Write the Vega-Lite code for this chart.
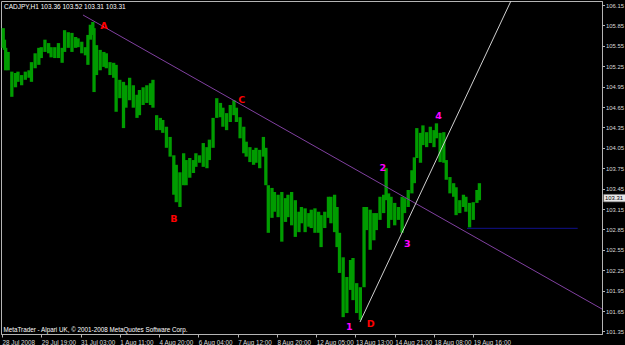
{
  "$schema": "https://vega.github.io/schema/vega-lite/v6.json",
  "width": 601,
  "height": 333,
  "autosize": {"type": "none"},
  "padding": {"left": 1, "top": 1, "right": 23, "bottom": 11},
  "background": "#000000",
  "config": {
    "view": {"stroke": "#b4b4b4", "strokeWidth": 1},
    "font": "Liberation Sans"
  },
  "title": {
    "text": "CADJPY,H1  103.36 103.52 103.31 103.31",
    "anchor": "start",
    "frame": "group",
    "offset": -14,
    "dx": 3,
    "baseline": "alphabetic",
    "color": "#ffffff",
    "fontSize": 6.5,
    "fontWeight": "normal",
    "font": "Liberation Sans"
  },
  "resolve": {"scale": {"color": "independent", "strokeWidth": "independent"}},
  "encoding": {
    "x": {
      "field": "b",
      "type": "quantitative",
      "scale": {"domain": [-0.815, 488.9], "nice": false, "zero": false},
      "axis": {
        "values": [0, 32, 64, 96, 128, 160, 192, 224, 256, 288, 320, 352, 384],
        "labelExpr": "['28 Jul 2008','29 Jul 19:00','31 Jul 03:00','1 Aug 11:00','4 Aug 20:00','6 Aug 04:00','7 Aug 12:00','8 Aug 20:00','12 Aug 05:00','13 Aug 13:00','14 Aug 21:00','18 Aug 08:00','19 Aug 16:00'][round(datum.value/32)]",
        "labelAlign": "left",
        "labelBaseline": "top",
        "labelPadding": 2,
        "labelFlush": false,
        "labelOverlap": false,
        "labelFontSize": 6.3,
        "labelColor": "#d8d8d8",
        "labelFont": "Liberation Sans",
        "tickSize": 3,
        "tickColor": "#b4b4b4",
        "domainColor": "#b4b4b4",
        "grid": false,
        "title": "MetaTrader - Alpari UK, © 2001-2008 MetaQuotes Software Corp.",
        "titleX": 2,
        "titleY": -2.5,
        "titleAlign": "left",
        "titleAnchor": null,
        "titleBaseline": "alphabetic",
        "titleFontSize": 6.3,
        "titleFontWeight": "normal",
        "titleFont": "Liberation Sans",
        "titleColor": "#ffffff"
      }
    },
    "y": {
      "field": "p",
      "type": "quantitative",
      "scale": {"domain": [101.312, 106.209], "nice": false, "zero": false},
      "axis": {
        "orient": "right",
        "values": [101.35, 101.65, 101.95, 102.25, 102.55, 102.85, 103.15, 103.45, 103.75, 104.05, 104.35, 104.65, 104.95, 105.25, 105.55, 105.85, 106.15],
        "format": ".2f",
        "labelFontSize": 5.9,
        "labelColor": "#d8d8d8",
        "labelFont": "Liberation Sans",
        "labelPadding": 1,
        "labelFlush": false,
        "labelOverlap": false,
        "tickSize": 2.5,
        "tickColor": "#b4b4b4",
        "domainColor": "#b4b4b4",
        "grid": false,
        "title": null
      }
    }
  },
  "layer": [
    {
      "data": {"values": [
        {"b":1,"h":105.81,"p":105.52},{"b":2,"h":105.64,"p":105.49},{"b":3,"h":105.52,"p":105.19},{"b":5,"h":105.46,"p":105.19},
        {"b":8,"h":105.17,"p":104.80},{"b":11,"h":105.15,"p":104.94},{"b":13,"h":105.17,"p":105.02},{"b":16,"h":105.12,"p":104.97},
        {"b":19,"h":105.17,"p":105.05},{"b":22,"h":105.19,"p":105.08},{"b":24,"h":105.31,"p":105.02},{"b":27,"h":105.44,"p":105.22},
        {"b":30,"h":105.52,"p":105.27},{"b":32,"h":105.53,"p":105.37},{"b":35,"h":105.64,"p":105.46},{"b":38,"h":105.59,"p":105.44},
        {"b":40,"h":105.53,"p":105.38},{"b":43,"h":105.53,"p":105.37},{"b":46,"h":105.59,"p":105.37},{"b":49,"h":105.52,"p":105.30},
        {"b":51,"h":105.78,"p":105.46},{"b":54,"h":105.75,"p":105.52},{"b":57,"h":105.74,"p":105.46},{"b":60,"h":105.68,"p":105.52},
        {"b":62,"h":105.66,"p":105.53},{"b":65,"h":105.61,"p":105.44},{"b":68,"h":105.53,"p":105.41},{"b":70,"h":105.71,"p":105.27},
        {"b":72,"h":105.86,"p":105.64},{"b":74,"h":105.90,"p":105.71},{"b":75,"h":105.81,"p":104.87},{"b":77,"h":105.56,"p":105.12},
        {"b":80,"h":105.49,"p":105.19},{"b":83,"h":105.46,"p":105.24},{"b":85,"h":105.44,"p":105.22},{"b":88,"h":105.31,"p":105.12},
        {"b":91,"h":105.30,"p":105.08},{"b":93,"h":105.27,"p":104.58},{"b":96,"h":105.05,"p":104.78},{"b":99,"h":105.02,"p":104.34},
        {"b":101,"h":104.97,"p":104.64},{"b":104,"h":105.08,"p":104.75},{"b":107,"h":104.97,"p":104.64},{"b":110,"h":104.83,"p":104.49},
        {"b":112,"h":104.90,"p":104.53},{"b":115,"h":104.94,"p":104.68},{"b":118,"h":104.97,"p":104.71},{"b":121,"h":105.00,"p":104.68},
        {"b":123,"h":105.05,"p":104.64},{"b":126,"h":104.53,"p":104.31},{"b":129,"h":104.49,"p":104.31},{"b":131,"h":104.46,"p":104.27},
        {"b":134,"h":104.36,"p":104.05},{"b":137,"h":104.21,"p":103.92},{"b":140,"h":103.94,"p":103.36},{"b":142,"h":103.80,"p":103.25},
        {"b":145,"h":103.69,"p":103.18},{"b":148,"h":103.97,"p":103.50},{"b":150,"h":103.87,"p":103.50},{"b":153,"h":103.90,"p":103.61},
        {"b":156,"h":103.87,"p":103.68},{"b":158,"h":103.97,"p":103.77},{"b":161,"h":103.94,"p":103.83},{"b":164,"h":104.12,"p":103.77},
        {"b":167,"h":104.06,"p":103.75},{"b":169,"h":104.17,"p":103.87},{"b":172,"h":104.49,"p":104.05},{"b":175,"h":104.78,"p":104.49},
        {"b":178,"h":104.71,"p":104.50},{"b":180,"h":104.64,"p":104.36},{"b":183,"h":104.56,"p":104.31},{"b":186,"h":104.68,"p":104.43},
        {"b":189,"h":104.75,"p":104.53},{"b":191,"h":104.64,"p":104.43},{"b":194,"h":104.50,"p":104.19},{"b":197,"h":104.36,"p":103.97},
        {"b":199,"h":104.14,"p":103.92},{"b":202,"h":104.06,"p":103.84},{"b":205,"h":104.02,"p":103.80},{"b":207,"h":104.05,"p":103.83},
        {"b":210,"h":104.02,"p":103.75},{"b":213,"h":104.21,"p":103.92},{"b":215,"h":104.05,"p":103.50},{"b":217,"h":103.50,"p":102.80},
        {"b":220,"h":103.46,"p":103.02},{"b":222,"h":103.40,"p":103.11},{"b":225,"h":103.36,"p":103.03},{"b":228,"h":103.40,"p":102.67},
        {"b":231,"h":103.31,"p":102.96},{"b":233,"h":103.36,"p":103.03},{"b":236,"h":103.40,"p":102.91},{"b":239,"h":103.28,"p":102.74},
        {"b":242,"h":103.11,"p":102.81},{"b":244,"h":103.18,"p":102.94},{"b":247,"h":103.16,"p":102.81},{"b":250,"h":103.09,"p":102.89},
        {"b":252,"h":103.14,"p":102.87},{"b":255,"h":103.16,"p":102.80},{"b":258,"h":103.11,"p":102.80},{"b":260,"h":103.06,"p":102.59},
        {"b":263,"h":103.11,"p":102.87},{"b":266,"h":103.33,"p":103.02},{"b":268,"h":103.33,"p":102.94},{"b":271,"h":103.36,"p":102.81},
        {"b":273,"h":103.18,"p":102.59},{"b":275,"h":102.80,"p":102.21},{"b":278,"h":102.44,"p":101.56},{"b":281,"h":102.15,"p":101.62},
        {"b":284,"h":102.40,"p":101.96},{"b":286,"h":102.43,"p":101.81},{"b":289,"h":102.06,"p":101.62},{"b":292,"h":102.00,"p":101.52},
        {"b":295,"h":103.18,"p":102.00},{"b":297,"h":103.18,"p":102.84},{"b":300,"h":103.14,"p":102.55},{"b":303,"h":103.09,"p":102.69},
        {"b":305,"h":103.09,"p":102.84},{"b":308,"h":103.33,"p":102.99},{"b":311,"h":103.36,"p":103.09},{"b":313,"h":103.75,"p":103.28},
        {"b":315,"h":103.38,"p":102.87},{"b":317,"h":103.33,"p":102.99},{"b":320,"h":103.24,"p":102.91},{"b":323,"h":103.18,"p":102.99},
        {"b":326,"h":103.33,"p":102.80},{"b":328,"h":103.31,"p":103.09},{"b":331,"h":103.43,"p":103.18},{"b":334,"h":103.72,"p":103.38},
        {"b":336,"h":103.91,"p":103.53},{"b":338,"h":104.34,"p":103.90},{"b":341,"h":104.27,"p":103.83},{"b":343,"h":104.38,"p":104.09},
        {"b":346,"h":104.28,"p":104.06},{"b":349,"h":104.36,"p":104.12},{"b":352,"h":104.31,"p":104.06},{"b":354,"h":104.41,"p":104.19},
        {"b":357,"h":104.27,"p":103.84},{"b":360,"h":104.28,"p":103.83},{"b":362,"h":103.87,"p":103.58},{"b":365,"h":103.62,"p":103.38},
        {"b":368,"h":103.53,"p":103.33},{"b":370,"h":103.47,"p":103.06},{"b":373,"h":103.28,"p":103.09},{"b":376,"h":103.36,"p":103.18},
        {"b":378,"h":103.33,"p":103.11},{"b":381,"h":103.24,"p":102.88},{"b":384,"h":103.25,"p":102.99},{"b":387,"h":103.43,"p":103.24},
        {"b":389,"h":103.53,"p":103.28}
      ]},
      "mark": {"type": "rule", "color": "#009c00", "strokeWidth": 3.3},
      "encoding": {"y2": {"field": "h"}}
    },
    {
      "data": {"values": [
        {"g":"trend","b":66.0,"p":106.003},{"g":"trend","b":488.9,"p":101.679},
        {"g":"wave","b":291.7,"p":101.488},{"g":"wave","b":414.7,"p":106.209},
        {"g":"support","b":378.9,"p":102.866},{"g":"support","b":469.1,"p":102.866}
      ]},
      "mark": {"type": "line", "clip": true},
      "encoding": {
        "detail": {"field": "g"},
        "color": {"field": "g", "type": "nominal", "scale": {"domain": ["trend","wave","support"], "range": ["#8040a0","#d0d0d0","#10108c"]}, "legend": null},
        "strokeWidth": {"field": "g", "type": "nominal", "scale": {"domain": ["trend","wave","support"], "range": [1,1,2]}, "legend": null}
      }
    },
    {
      "data": {"values": [
        {"t":"A","k":"r","b":83.1,"p":105.84},
        {"t":"B","k":"r","b":140.1,"p":103.00},
        {"t":"C","k":"r","b":195.3,"p":104.75},
        {"t":"D","k":"r","b":300.4,"p":101.46},
        {"t":"1","k":"m","b":283.0,"p":101.42},
        {"t":"2","k":"m","b":310.2,"p":103.75},
        {"t":"3","k":"m","b":330.2,"p":102.63},
        {"t":"4","k":"m","b":355.8,"p":104.52}
      ]},
      "mark": {"type": "text", "font": "DejaVu Sans", "fontWeight": "bold", "fontSize": 9.5, "align": "center", "baseline": "middle"},
      "encoding": {
        "text": {"field": "t"},
        "color": {"field": "k", "type": "nominal", "scale": {"domain": ["r","m"], "range": ["#ff0000","#ff00ff"]}, "legend": null}
      }
    },
    {
      "data": {"values": [{"b":490.3,"b2":520,"p":103.365,"p2":103.255}]},
      "mark": {"type": "rect", "fill": "#e8e8e8", "stroke": "#909090", "strokeWidth": 0.5, "clip": false},
      "encoding": {"x2": {"field": "b2"}, "y2": {"field": "p2"}}
    },
    {
      "data": {"values": [{"b":491.4,"p":103.31,"t":"103.31"}]},
      "mark": {"type": "text", "align": "left", "baseline": "middle", "font": "Liberation Sans", "fontSize": 5.9, "color": "#000000", "clip": false},
      "encoding": {"text": {"field": "t"}}
    }
  ]
}
